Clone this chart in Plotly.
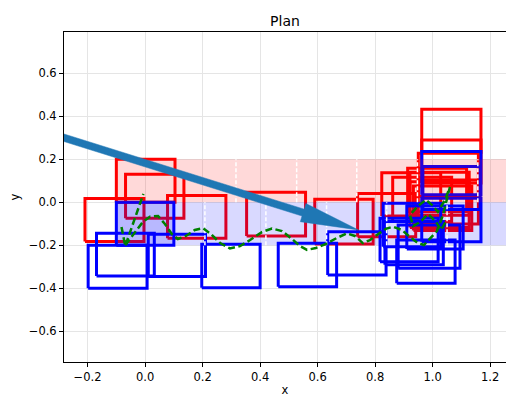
import math
import plotly.graph_objects as go

# ---------------- data ----------------
title_text = "Plan"
x_label = "x"
y_label = "y"
x_ticks = [-0.2, 0.0, 0.2, 0.4, 0.6, 0.8, 1.0, 1.2]
y_ticks = [-0.6, -0.4, -0.2, 0.0, 0.2, 0.4, 0.6]
x_range = [-0.282, 1.255]
y_range = [-0.744, 0.793]

red_x0 = [-0.100, -0.068, -0.209, 0.078, 0.353, 0.590, 0.739, 0.823, 0.861, 0.913, 0.921, 0.933, 0.950, 0.962, 0.962, 0.950, 0.921]
red_x1 = [0.104, 0.135, -0.004, 0.281, 0.558, 0.793, 0.941, 1.028, 1.066, 1.118, 1.127, 1.136, 1.159, 1.168, 1.168, 1.159, 1.127]
red_y0 = [0.000, -0.075, -0.183, -0.168, -0.157, -0.194, -0.161, -0.064, -0.090, -0.044, -0.118, -0.132, -0.101, 0.233, 0.090, 0.028, -0.060]
red_y1 = [0.200, 0.130, 0.018, 0.031, 0.047, 0.014, 0.041, 0.138, 0.116, 0.158, 0.096, 0.076, 0.104, 0.433, 0.290, 0.228, 0.140]

blue_x0 = [-0.100, -0.169, -0.198, 0.011, 0.197, 0.463, 0.635, 0.962, 0.966, 0.962, 0.828, 0.910, 0.817, 0.834, 0.880, 0.875]
blue_x1 = [0.100, 0.032, 0.007, 0.210, 0.400, 0.666, 0.838, 1.168, 1.165, 1.168, 1.028, 1.106, 1.019, 1.037, 1.095, 1.078]
blue_y0 = [-0.200, -0.343, -0.400, -0.346, -0.398, -0.393, -0.339, 0.035, -0.034, -0.184, -0.207, -0.218, -0.277, -0.291, -0.307, -0.377]
blue_y1 = [0.000, -0.144, -0.200, -0.149, -0.196, -0.191, -0.137, 0.236, 0.166, 0.019, -0.005, -0.017, -0.075, -0.090, -0.106, -0.176]

# ego box (filled)
ego_x = [-0.100, 0.100]
ego_y = [-0.200, 0.000]

# lanes
upper_lane_x = [-0.100, 1.300]
upper_lane_y = [0.000, 0.200]
lower_lane_x = [-0.100, 1.300]
lower_lane_y = [-0.200, 0.000]
upper_dash_x = [0.316, 0.527, 0.736, 0.947, 1.157]
lower_dash_x = [0.208, 0.420, 0.631, 0.840, 1.050]

# planned path (green)
path_x = [-0.082, -0.069, -0.006, None,
          -0.069, -0.035, -0.008, 0.017, 0.045, 0.069, 0.093, 0.114, 0.142, 0.173, 0.201,
          0.229, 0.261, 0.295, 0.330, 0.365, 0.406, 0.441, 0.476, 0.511, 0.538, 0.563,
          0.594, 0.629, 0.667, 0.702, 0.730, 0.757, 0.782, 0.806, 0.837, 0.862, 0.893,
          0.921, 0.949, 0.970, 0.994, 1.015, 1.036, 1.053, 1.060, 1.043, 1.018, 0.998,
          0.977, 0.949, 0.921, 0.932, 0.956, 0.984, 1.012, 1.029, 1.047]
path_y = [-0.115, -0.204, 0.039, None,
          -0.200, -0.139, -0.092, -0.067, -0.064, -0.101, -0.148, -0.171, -0.157, -0.129, -0.120,
          -0.148, -0.190, -0.215, -0.204, -0.176, -0.139, -0.122, -0.134, -0.171, -0.204, -0.222,
          -0.213, -0.194, -0.166, -0.145, -0.157, -0.190, -0.176, -0.152, -0.124, -0.114, -0.129,
          -0.162, -0.190, -0.199, -0.166, -0.134, -0.059, 0.029, 0.071, 0.011, -0.045, -0.013,
          0.011, -0.017, -0.059, -0.111, -0.092, -0.055, -0.092, -0.129, -0.087]

# heading arrow
arrow_start = [-0.300, 0.308]
arrow_end = [0.742, -0.129]

# ---------------- layout constants ----------------
W, H = 506, 398
ML, MR, MT, MB = 64, 0, 32, 36
FONT = "DejaVu Sans"
TICK_SIZE = 11.5
TITLE_SIZE = 14

fig = go.Figure()


def rect_path(x0s, x1s, y0s, y1s):
    xs, ys = [], []
    for a, b, c, d in zip(x0s, x1s, y0s, y1s):
        xs += [a, b, b, a, a, None]
        ys += [c, c, d, d, c, None]
    return xs, ys


rx, ry = rect_path(red_x0, red_x1, red_y0, red_y1)
fig.add_trace(go.Scatter(x=rx, y=ry, mode="lines", line=dict(color="#ff0000", width=3),
                         hoverinfo="skip"))
bx, by = rect_path(blue_x0, blue_x1, blue_y0, blue_y1)
fig.add_trace(go.Scatter(x=bx, y=by, mode="lines", line=dict(color="#0000ff", width=3),
                         hoverinfo="skip"))

# ego filled box
ex, ey = rect_path([ego_x[0]], [ego_x[1]], [ego_y[0]], [ego_y[1]])
fig.add_trace(go.Scatter(x=ex[:-1], y=ey[:-1], mode="lines", fill="toself",
                         fillcolor="rgba(0,0,255,0.15)", line=dict(width=0),
                         hoverinfo="skip"))

# lanes (drawn over boxes, translucent)
for lx, ly, col in [(upper_lane_x, upper_lane_y, "rgba(255,0,0,0.15)"),
                    (lower_lane_x, lower_lane_y, "rgba(0,0,255,0.15)")]:
    px_, py_ = rect_path([lx[0]], [lx[1]], [ly[0]], [ly[1]])
    fig.add_trace(go.Scatter(x=px_[:-1], y=py_[:-1], mode="lines", fill="toself",
                             fillcolor=col, line=dict(width=0), hoverinfo="skip"))

# white dashed lane separators
dx_, dy_ = [], []
for xv in upper_dash_x:
    dx_ += [xv, xv, None]
    dy_ += [upper_lane_y[0], upper_lane_y[1], None]
for xv in lower_dash_x:
    dx_ += [xv, xv, None]
    dy_ += [lower_lane_y[0], lower_lane_y[1], None]
fig.add_trace(go.Scatter(x=dx_, y=dy_, mode="lines",
                         line=dict(color="white", width=1.5, dash="4px,2px"),
                         hoverinfo="skip"))

# planned path
fig.add_trace(go.Scatter(x=path_x, y=path_y, mode="lines", connectgaps=False,
                         line=dict(color="#008000", width=2.5, dash="7px,3.5px"),
                         hoverinfo="skip"))

# arrow polygon built in screen-proportional space
kx = (W - ML - MR) / (x_range[1] - x_range[0])
ky = (H - MT - MB) / (y_range[1] - y_range[0])
sx, sy = arrow_start[0] * kx, arrow_start[1] * ky
exx, eyy = arrow_end[0] * kx, arrow_end[1] * ky
ddx, ddy = exx - sx, eyy - sy
L = math.hypot(ddx, ddy)
ux, uy = ddx / L, ddy / L
nx, ny = -uy, ux
shaft_hw, head_hw, head_len = 3.6, 9.5, 58.0
bxm, bym = exx - ux * head_len, eyy - uy * head_len
pts = [
    (sx + nx * shaft_hw, sy + ny * shaft_hw),
    (bxm + nx * shaft_hw, bym + ny * shaft_hw),
    (bxm + nx * head_hw, bym + ny * head_hw),
    (exx, eyy),
    (bxm - nx * head_hw, bym - ny * head_hw),
    (bxm - nx * shaft_hw, bym - ny * shaft_hw),
    (sx - nx * shaft_hw, sy - ny * shaft_hw),
    (sx + nx * shaft_hw, sy + ny * shaft_hw),
]
fig.add_trace(go.Scatter(x=[p[0] / kx for p in pts], y=[p[1] / ky for p in pts],
                         mode="lines", fill="toself", fillcolor="#1f77b4",
                         line=dict(color="#1f77b4", width=0.5), hoverinfo="skip"))


def fmt(v):
    s = f"{abs(v):.1f}"
    return ("\u2212" + s) if v < 0 else s


axis_common = dict(
    showgrid=True, gridcolor="#e5e5e5", gridwidth=1,
    zeroline=False, showline=True, linecolor="black", linewidth=1,
    ticks="outside", ticklen=4, tickwidth=1, tickcolor="black",
    tickfont=dict(family=FONT, size=TICK_SIZE, color="black"),
)

fig.update_layout(
    width=W, height=H,
    margin=dict(l=ML, r=MR, t=MT, b=MB, pad=0),
    paper_bgcolor="white", plot_bgcolor="white",
    showlegend=False,
    font=dict(family=FONT, size=TICK_SIZE, color="black"),
    title=dict(text=title_text, x=(ML + (W - MR)) / 2 / W, xanchor="center",
               y=1 - 21 / H, yanchor="middle", yref="container",
               font=dict(family=FONT, size=TITLE_SIZE, color="black")),
    xaxis=dict(range=x_range, tickvals=x_ticks, ticktext=[fmt(v) for v in x_ticks],
               mirror=True,
               title=dict(text=x_label, standoff=3, font=dict(family=FONT, size=TICK_SIZE)),
               **axis_common),
    yaxis=dict(range=y_range, tickvals=y_ticks, ticktext=[fmt(v) for v in y_ticks],
               mirror=False,
               title=dict(text=y_label, standoff=6, font=dict(family=FONT, size=TICK_SIZE)),
               **axis_common),
)

fig.write_html(
    "out.html",
    config={"displayModeBar": False},
    post_script="document.body.style.margin='0';document.body.style.overflow='hidden';",
)
